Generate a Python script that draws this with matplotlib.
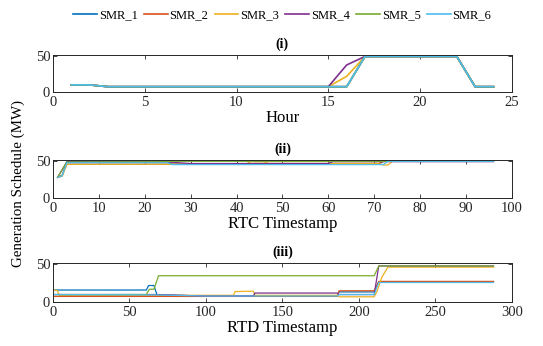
import matplotlib
matplotlib.use("Agg")
import matplotlib.pyplot as plt

plt.rcParams["font.family"] = ["Liberation Serif", "DejaVu Serif"]
plt.rcParams["mathtext.fontset"] = "stix"

NAMES = ["SMR_1", "SMR_2", "SMR_3", "SMR_4", "SMR_5", "SMR_6"]
COLORS = ["#0072BD", "#D95319", "#EDB120", "#7E2F8E", "#77AC30", "#4DBEEE"]

# (i) hourly schedule, hours 1..24
hours = list(range(1, 25))
hour_base = [10, 10, 7.5, 7.5, 7.5, 7.5, 7.5, 7.5, 7.5, 7.5, 7.5, 7.5,
             7.5, 7.5, 7.5, 7.5, 50, 50, 50, 50, 50, 50, 7.5, 7.5]
hour_smr3 = [10, 10, 7.5, 7.5, 7.5, 7.5, 7.5, 7.5, 7.5, 7.5, 7.5, 7.5,
             7.5, 7.5, 7.5, 22, 50, 50, 50, 50, 50, 50, 7.5, 7.5]
hour_smr4 = [10, 10, 7.5, 7.5, 7.5, 7.5, 7.5, 7.5, 7.5, 7.5, 7.5, 7.5,
             7.5, 7.5, 7.5, 38, 50, 50, 50, 50, 50, 50, 7.5, 7.5]
hour_series = [hour_base, hour_base, hour_smr3, hour_smr4, hour_base, hour_base]

# (ii) RTC schedule, breakpoints (timestamp, MW)
rtc_series = [
    [(1, 28), (2, 31), (3, 49.5), (25, 49.5), (26, 46), (71, 46), (72, 50), (96, 50)],
    [(1, 28), (2, 30), (3, 46), (43, 46), (44, 47), (71, 47), (72, 50), (96, 50)],
    [(1, 28), (2, 30), (3, 46), (42, 46), (43, 49.5), (46, 49.5), (47, 47),
     (71, 47), (72, 45), (73, 45), (74, 50), (96, 50)],
    [(1, 28), (3, 49), (25, 49), (30, 47), (60, 47), (61, 49.5), (96, 49.5)],
    [(1, 28), (3, 49), (25, 49.5), (26, 50), (96, 50)],
    [(1, 28), (2, 30), (3, 48), (25, 48), (26, 45.5), (72, 45.5), (73, 50), (96, 50)],
]

# (iii) RTD schedule, breakpoints (timestamp, MW)
rtd_series = [
    [(1, 16), (61, 16), (62.5, 22), (66, 22), (68, 9.5), (100, 8), (186, 8),
     (187, 13.5), (210, 13.5), (213, 27), (288, 27)],
    [(1, 7.5), (186, 7.5), (187, 15), (210, 15), (213, 27.5), (288, 27.5)],
    [(1, 16), (3, 15), (4, 9), (118, 9), (119, 14), (131, 14.5), (132, 9),
     (186, 9), (187, 7), (210, 7), (212, 15), (215, 33), (219, 46.5), (288, 46.5)],
    [(1, 10), (68, 10), (100, 8), (131, 8), (132, 12), (186, 12), (187, 10),
     (210, 10), (213, 48), (288, 48)],
    [(1, 10), (61, 10), (63, 17), (66, 17), (69, 35), (210, 35), (213, 48), (288, 48)],
    [(1, 10), (68, 9.5), (100, 8), (186, 8), (187, 10), (210, 10), (213, 26), (288, 26)],
]

fig = plt.figure(figsize=(5.43, 3.46), dpi=100)
ax1 = fig.add_axes([0.0976, 0.734, 0.845, 0.107])
ax2 = fig.add_axes([0.0976, 0.428, 0.845, 0.110])
ax3 = fig.add_axes([0.0976, 0.127, 0.845, 0.113])

for name, color, ys in zip(NAMES, COLORS, hour_series):
    ax1.plot(hours, ys, color=color, lw=1.2, label=name)

for color, pts in zip(COLORS, rtc_series):
    ax2.plot([p[0] for p in pts], [p[1] for p in pts], color=color, lw=0.9)

for color, pts in zip(COLORS, rtd_series):
    ax3.plot([p[0] for p in pts], [p[1] for p in pts], color=color, lw=0.9)

setup = [
    (ax1, "(i)", "Hour", 25, [0, 5, 10, 15, 20, 25]),
    (ax2, "(ii)", "RTC Timestamp", 100, list(range(0, 101, 10))),
    (ax3, "(iii)", "RTD Timestamp", 300, list(range(0, 301, 50))),
]
for ax, title, xlabel, xmax, xticks in setup:
    ax.set_xlim(0, xmax)
    ax.set_ylim(0, 52)
    ax.set_xticks(xticks)
    ax.set_yticks([0, 50])
    ax.set_title(title, fontsize=10, fontweight="bold", pad=5)
    ax.set_xlabel(xlabel, fontsize=12, labelpad=0.5)
    ax.tick_params(direction="in", top=True, right=True, labelsize=10.5,
                   length=3, width=0.6, colors="#262626")
    ax.tick_params(axis="x", pad=3)
    ax.tick_params(axis="y", pad=2)
    for sp in ax.spines.values():
        sp.set_linewidth(0.7)
        sp.set_color("#262626")

fig.text(0.033, 0.47, "Generation Schedule (MW)", rotation=90,
         ha="center", va="center", fontsize=10.8)

fig.legend(loc="center", bbox_to_anchor=(0.52, 0.957), ncol=6, frameon=False,
           fontsize=9, handlelength=1.9, handletextpad=0.15, columnspacing=0.5)

fig.savefig("out.png", dpi=100)
